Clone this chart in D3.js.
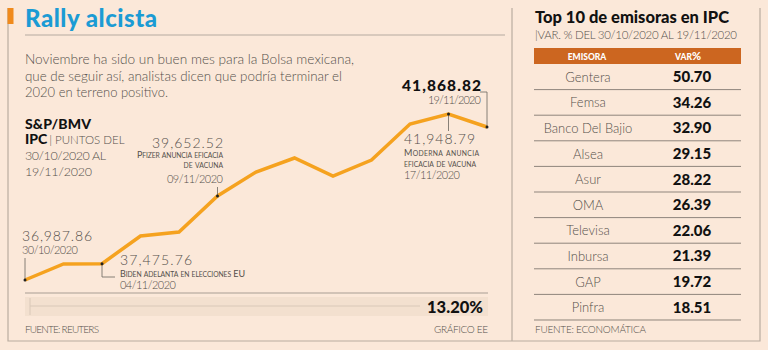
<!DOCTYPE html>
<html>
<head>
<meta charset="utf-8">
<script src="https://cdn.jsdelivr.net/npm/d3@7"></script>
<style>
  body { margin:0; background:#fbe8d9; }
  svg { display:block; font-family: Lato, "Open Sans", sans-serif; }
</style>
</head>
<body>
<svg id="chart"></svg>
<script>
const width = 768, height = 350;

// datos del IPC
const dates = ['30/10','03/11','04/11','05/11','06/11','09/11','10/11','11/11','12/11','13/11','16/11','17/11','19/11'];
const ipc = [36988, 37466, 37476, 38303, 38422, 39498, 40215, 40634, 40096, 40574, 41650, 41949, 41561];

// top 10 emisoras
const emisoras = ['Gentera','Femsa','Banco Del Bajio','Alsea','Asur','OMA','Televisa','Inbursa','GAP','Pinfra'];
const variacion = [50.70, 34.26, 32.90, 29.15, 28.22, 26.39, 22.06, 21.39, 19.72, 18.51];

const bodyLines = ['Noviembre ha sido un buen mes para la Bolsa mexicana,',
                   'que de seguir así, analistas dicen que podría terminar el',
                   '2020 en terreno positivo.'];

const orange = '#f5a21f', border = '#b9aca0', txt = '#55504b';

const svg = d3.select('#chart').attr('width',width).attr('height',height)
              .attr('viewBox',[0,0,width,height]);

svg.append('rect').attr('width',width).attr('height',height).attr('fill','#fbe8d9');

// marcos
svg.append('path').attr('d','M8,8V341H512V8M512,341H760V8').attr('fill','none')
   .attr('stroke',border).attr('stroke-width',1.2);
svg.append('rect').attr('x',7.5).attr('y',8).attr('width',6).attr('height',16).attr('fill','#f08a1c');

// titulo izquierdo
svg.append('text').attr('x',25).attr('y',27).text('Rally alcista')
   .attr('fill','#1b9bd4').attr('font-size',24).attr('font-weight',900).attr('textLength',132);
svg.append('line').attr('x1',25).attr('x2',505).attr('y1',35).attr('y2',35)
   .attr('stroke','#b5aaa0').attr('stroke-width',1);

svg.append('g').selectAll('text').data(bodyLines).join('text')
   .attr('x',25).attr('y',(d,i)=>64+i*16.5)
   .attr('fill',txt).attr('font-size',14).attr('font-weight',300)
   .attr('textLength',(d,i)=>[329,317,143][i]).attr('lengthAdjust','spacingAndGlyphs')
   .text(d=>d);

// falsas versalitas
function smallCaps(sel, str, big, small){
  const parts = str.match(/([A-ZÁÉÍÓÚ ]+|[^A-ZÁÉÍÓÚ ]+)/g);
  parts.forEach(p=>{
    const isUp = /[A-ZÁÉÍÓÚ]/.test(p) || p.trim()==='';
    sel.append('tspan').attr('font-size', isUp ? big : small).text(p.toUpperCase());
  });
  return sel;
}

// S&P/BMV
const lab = svg.append('g').attr('fill',txt);
lab.append('text').attr('x',25).attr('y',128.5).attr('font-size',14).attr('font-weight',900)
   .attr('fill','#111').text('S&P/BMV').attr('textLength',66);
const ipcT = lab.append('text').attr('x',25).attr('y',144).attr('font-size',11.5);
ipcT.append('tspan').attr('font-weight',900).attr('font-size',14).attr('fill','#111').text('IPC');
ipcT.append('tspan').attr('font-weight',300).attr('dx',2).text('| PUNTOS DEL');
lab.append('text').attr('x',25).attr('y',160).attr('font-size',12.5).attr('font-weight',300).attr('textLength',81).text('30/10/2020 AL');
lab.append('text').attr('x',25).attr('y',176).attr('font-size',12.5).attr('font-weight',300).attr('textLength',67).text('19/11/2020');

// escalas
const x = d3.scalePoint().domain(dates).range([25,487]);
const y = d3.scaleLinear().domain([36988, 41949]).range([280,114]);

const line = d3.line().x((d,i)=>x(dates[i])).y(d=>y(d));
svg.append('path').datum(ipc).attr('d',line).attr('fill','none')
   .attr('stroke',orange).attr('stroke-width',3.5).attr('stroke-linejoin','miter');

// anotaciones
const ann = svg.append('g').attr('fill',txt);
const lead = (d)=>ann.append('path').attr('d',d).attr('fill','none').attr('stroke','#6b645e').attr('stroke-width',0.8);
const dot = (i)=>ann.append('circle').attr('cx',x(dates[i])).attr('cy',y(ipc[i])).attr('r',1.5).attr('fill','#222');
const num = (xx,yy,t,w,anchor)=>ann.append('text').attr('x',xx).attr('y',yy).attr('text-anchor',anchor||'start')
   .attr('font-size',14).attr('font-weight',300).attr('textLength',w).text(t);
const fecha = (xx,yy,t,anchor)=>ann.append('text').attr('x',xx).attr('y',yy).attr('text-anchor',anchor||'start')
   .attr('font-size',11).attr('font-weight',300).attr('textLength',56).text(t);
const sc = (xx,yy,t,w,anchor)=>{
  const s = ann.append('text').attr('x',xx).attr('y',yy).attr('text-anchor',anchor||'start');
  if(w) s.attr('textLength',w);
  return smallCaps(s,t,9,6.8);
};

// 30/10
let px = x(dates[0]), py = y(ipc[0]);
num(22,241,'36,987.86',70); fecha(22,254,'30/10/2020');
lead(`M${px},258V${py}`); dot(0);

// 04/11
px = x(dates[2]); py = y(ipc[2]);
num(120,265,'37,475.76',72);
sc(120,277,'Biden adelanta en elecciones EU',125);
fecha(120,289,'04/11/2020');
lead(`M${px},${py}V277H115`); dot(2);

// 09/11
px = x(dates[5]); py = y(ipc[5]);
num(223,148,'39,652.52',71,'end');
sc(223,157.5,'Pfizer anuncia eficacia',86,'end');
sc(223,168,'de vacuna',null,'end');
fecha(223,183,'09/11/2020','end');
lead(`M${px},187V${py}`); dot(5);

// 17/11
px = x(dates[11]); py = y(ipc[11]);
num(404,144,'41,948.79',71);
sc(404,155.5,'Moderna anuncia',75);
sc(404,166.5,'eficacia de vacuna',72);
fecha(404,179,'17/11/2020');
lead(`M${px},${py}V131`); dot(11);

// 19/11
px = x(dates[12]); py = y(ipc[12]);
ann.append('text').attr('x',481).attr('y',91).attr('text-anchor','end').attr('font-size',15.5).attr('font-weight',900)
   .attr('fill','#111').attr('textLength',79).text('41,868.82');
fecha(481,104,'19/11/2020','end').attr('textLength',53);
lead(`M480,92H${px}V${py}`); dot(12);

// barra de variación
svg.append('line').attr('x1',25).attr('x2',488).attr('y1',293).attr('y2',293).attr('stroke','#a89d93').attr('stroke-width',1);
svg.append('rect').attr('x',25).attr('y',297).attr('width',463).attr('height',19).attr('fill','#f3e0cf');
svg.append('line').attr('x1',30).attr('x2',420).attr('y1',306).attr('y2',306).attr('stroke','#d9c8b8').attr('stroke-width',1);
svg.append('line').attr('x1',30).attr('x2',30).attr('y1',298).attr('y2',315).attr('stroke','#d9c8b8').attr('stroke-width',1);
svg.append('text').attr('x',483).attr('y',313).attr('text-anchor','end').attr('font-size',16.5)
   .attr('font-weight',900).attr('fill','#111').attr('textLength',56).text('13.20%');

svg.append('text').attr('x',25).attr('y',333).attr('font-size',10).attr('font-weight',300).attr('fill',txt).attr('textLength',74).text('FUENTE: REUTERS');
svg.append('text').attr('x',488).attr('y',333).attr('text-anchor','end').attr('font-size',10).attr('font-weight',300).attr('fill',txt).attr('textLength',54).text('GRÁFICO EE');

// ---- tabla derecha ----
svg.append('text').attr('x',535).attr('y',23).attr('font-size',16.5).attr('font-weight',900).attr('fill','#111')
   .attr('textLength',194).text('Top 10 de emisoras en IPC');
svg.append('text').attr('x',535).attr('y',39).attr('font-size',11.5).attr('font-weight',300).attr('fill',txt)
   .attr('textLength',202).text('|VAR. % DEL 30/10/2020 AL 19/11/2020');

const tx0 = 534, tx1 = 741;
const row = d3.scaleBand().domain(emisoras).range([64,320]);
svg.append('rect').attr('x',tx0).attr('y',48).attr('width',tx1-tx0).attr('height',16).attr('fill','#cc6620');
svg.append('text').attr('x',587).attr('y',59.5).attr('text-anchor','middle').attr('font-size',8.5).attr('font-weight',900).attr('fill','#fff').text('EMISORA');
const vh = svg.append('text').attr('x',688).attr('y',59.5).attr('text-anchor','middle').attr('font-weight',900).attr('fill','#fff');
vh.append('tspan').attr('font-size',8.5).text('VAR');
vh.append('tspan').attr('font-size',11).text('%');

const rows = svg.append('g').selectAll('g').data(emisoras).join('g')
   .attr('transform',d=>`translate(0,${row(d)})`);
rows.append('text').attr('x',588).attr('y',row.bandwidth()/2+5).attr('text-anchor','middle')
   .attr('font-size',13).attr('font-weight',300).attr('fill',txt).text(d=>d);
rows.append('text').attr('x',692).attr('y',row.bandwidth()/2+5.5).attr('text-anchor','middle')
   .attr('font-size',15).attr('font-weight',900).attr('fill','#111').text((d,i)=>d3.format('.2f')(variacion[i]));
rows.append('line').attr('x1',tx0).attr('x2',tx1).attr('y1',row.bandwidth()).attr('y2',row.bandwidth())
   .attr('stroke','#8f857c').attr('stroke-width',1);

svg.append('text').attr('x',535).attr('y',333).attr('font-size',10).attr('font-weight',300).attr('fill',txt).attr('textLength',111).text('FUENTE: ECONOMÁTICA');
</script>
</body>
</html>
